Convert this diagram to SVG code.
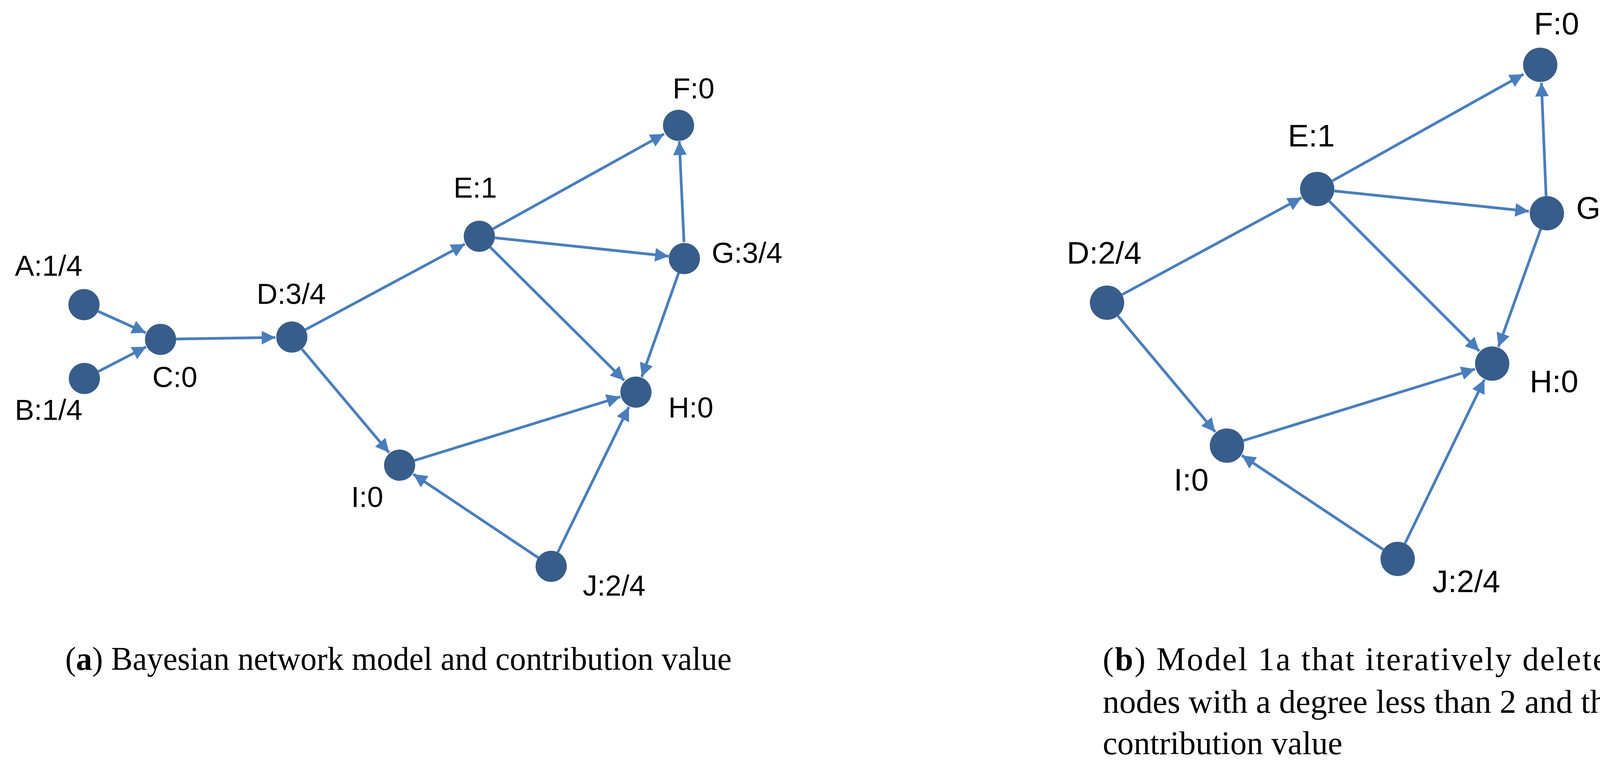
<svg xmlns="http://www.w3.org/2000/svg" width="4272" height="1951" viewBox="0 0 4272 1951">
<style>
.e{stroke:#4a7ebb;stroke-width:7;fill:none;marker-end:url(#ah)}
.n{fill:#385d8a}
.l{font-family:"Liberation Sans",Arial,sans-serif;font-size:74px;fill:#000}
.r{font-family:"Liberation Sans",Arial,sans-serif;font-size:80px;fill:#000}
.c{font-family:"Liberation Serif","Times New Roman",serif;font-size:84px;fill:#000}
</style>
<defs>
<marker id="ah" viewBox="0 0 10 10" refX="10" refY="5" markerWidth="5" markerHeight="5" orient="auto" markerUnits="strokeWidth">
<path d="M0,0 L10,5 L0,10 z" fill="#4a7ebb"/>
</marker>
</defs>
<rect width="4272" height="1951" fill="#fff"/>
<g id="connectors">
<line class="e" x1="251" y1="797" x2="373" y2="852"/>
<line class="e" x1="252" y1="951" x2="374" y2="888"/>
<line class="e" x1="451" y1="868" x2="705" y2="864"/>
<line class="e" x1="782" y1="844" x2="1190" y2="625"/>
<line class="e" x1="773" y1="894" x2="996" y2="1159"/>
<line class="e" x1="1262" y1="586" x2="1700" y2="343"/>
<line class="e" x1="1267" y1="609" x2="1712" y2="656"/>
<line class="e" x1="1255" y1="633" x2="1598" y2="974"/>
<line class="e" x1="1751" y1="620" x2="1739" y2="362"/>
<line class="e" x1="1738" y1="697" x2="1643" y2="965"/>
<line class="e" x1="1061" y1="1179" x2="1588" y2="1016"/>
<line class="e" x1="1378" y1="1428" x2="1058" y2="1214"/>
<line class="e" x1="1428" y1="1414" x2="1610" y2="1042"/>
<line class="e" x1="2873" y1="754" x2="3332" y2="506"/>
<line class="e" x1="2862" y1="809" x2="3111" y2="1106"/>
<line class="e" x1="3411" y1="463" x2="3900" y2="190"/>
<line class="e" x1="3416" y1="489" x2="3914" y2="541"/>
<line class="e" x1="3403" y1="515" x2="3787" y2="899"/>
<line class="e" x1="3958" y1="502" x2="3946" y2="212"/>
<line class="e" x1="3944" y1="587" x2="3836" y2="888"/>
<line class="e" x1="3183" y1="1128" x2="3776" y2="945"/>
<line class="e" x1="3541" y1="1407" x2="3179" y2="1166"/>
<line class="e" x1="3597" y1="1391" x2="3800" y2="972"/>
</g>
<g id="a_A"><circle class="n" cx="215" cy="780" r="40"/><text class="l" x="38" y="706">A:1/4</text></g>
<g id="a_B"><circle class="n" cx="216" cy="969" r="40"/><text class="l" x="38" y="1075">B:1/4</text></g>
<g id="a_C"><circle class="n" cx="411" cy="869" r="40"/><text class="l" x="390" y="991">C:0</text></g>
<g id="a_D"><circle class="n" cx="747" cy="863" r="40"/><text class="l" x="657" y="778">D:3/4</text></g>
<g id="a_E"><circle class="n" cx="1227" cy="605" r="40"/><text class="l" x="1161" y="506">E:1</text></g>
<g id="a_F"><circle class="n" cx="1737" cy="321" r="40"/><text class="l" x="1722" y="252">F:0</text></g>
<g id="a_G"><circle class="n" cx="1752" cy="662" r="40"/><text class="l" x="1822" y="673">G:3/4</text></g>
<g id="a_H"><circle class="n" cx="1628" cy="1004" r="40"/><text class="l" x="1711" y="1069">H:0</text></g>
<g id="a_I"><circle class="n" cx="1023" cy="1191" r="40"/><text class="l" x="899" y="1298">I:0</text></g>
<g id="a_J"><circle class="n" cx="1411" cy="1450" r="40"/><text class="l" x="1492" y="1525">J:2/4</text></g>
<g id="b_D"><circle class="n" cx="2834" cy="775" r="44"/><text class="r" x="2731" y="675">D:2/4</text></g>
<g id="b_E"><circle class="n" cx="3372" cy="484" r="44"/><text class="r" x="3297" y="375">E:1</text></g>
<g id="b_F"><circle class="n" cx="3943" cy="166" r="44"/><text class="r" x="3927" y="88">F:0</text></g>
<g id="b_G"><circle class="n" cx="3960" cy="546" r="44"/><text class="r" x="4035" y="560">G:3/4</text></g>
<g id="b_H"><circle class="n" cx="3820" cy="931" r="44"/><text class="r" x="3916" y="1004">H:0</text></g>
<g id="b_I"><circle class="n" cx="3141" cy="1141" r="44"/><text class="r" x="3005" y="1256">I:0</text></g>
<g id="b_J"><circle class="n" cx="3578" cy="1431" r="44"/><text class="r" x="3667" y="1516">J:2/4</text></g>
<g id="captions">
<text class="c" x="167" y="1715" textLength="1706" lengthAdjust="spacingAndGlyphs">(<tspan font-weight="bold">a</tspan>) Bayesian network model and contribution value</text>
<text class="c" x="2823" y="1716" textLength="1328" lengthAdjust="spacing">(<tspan font-weight="bold">b</tspan>) Model 1a that iteratively deletes</text>
<text class="c" x="2823" y="1825" textLength="1328" lengthAdjust="spacingAndGlyphs">nodes with a degree less than 2 and the</text>
<text class="c" x="2823" y="1931">contribution value</text>
</g>
</svg>
